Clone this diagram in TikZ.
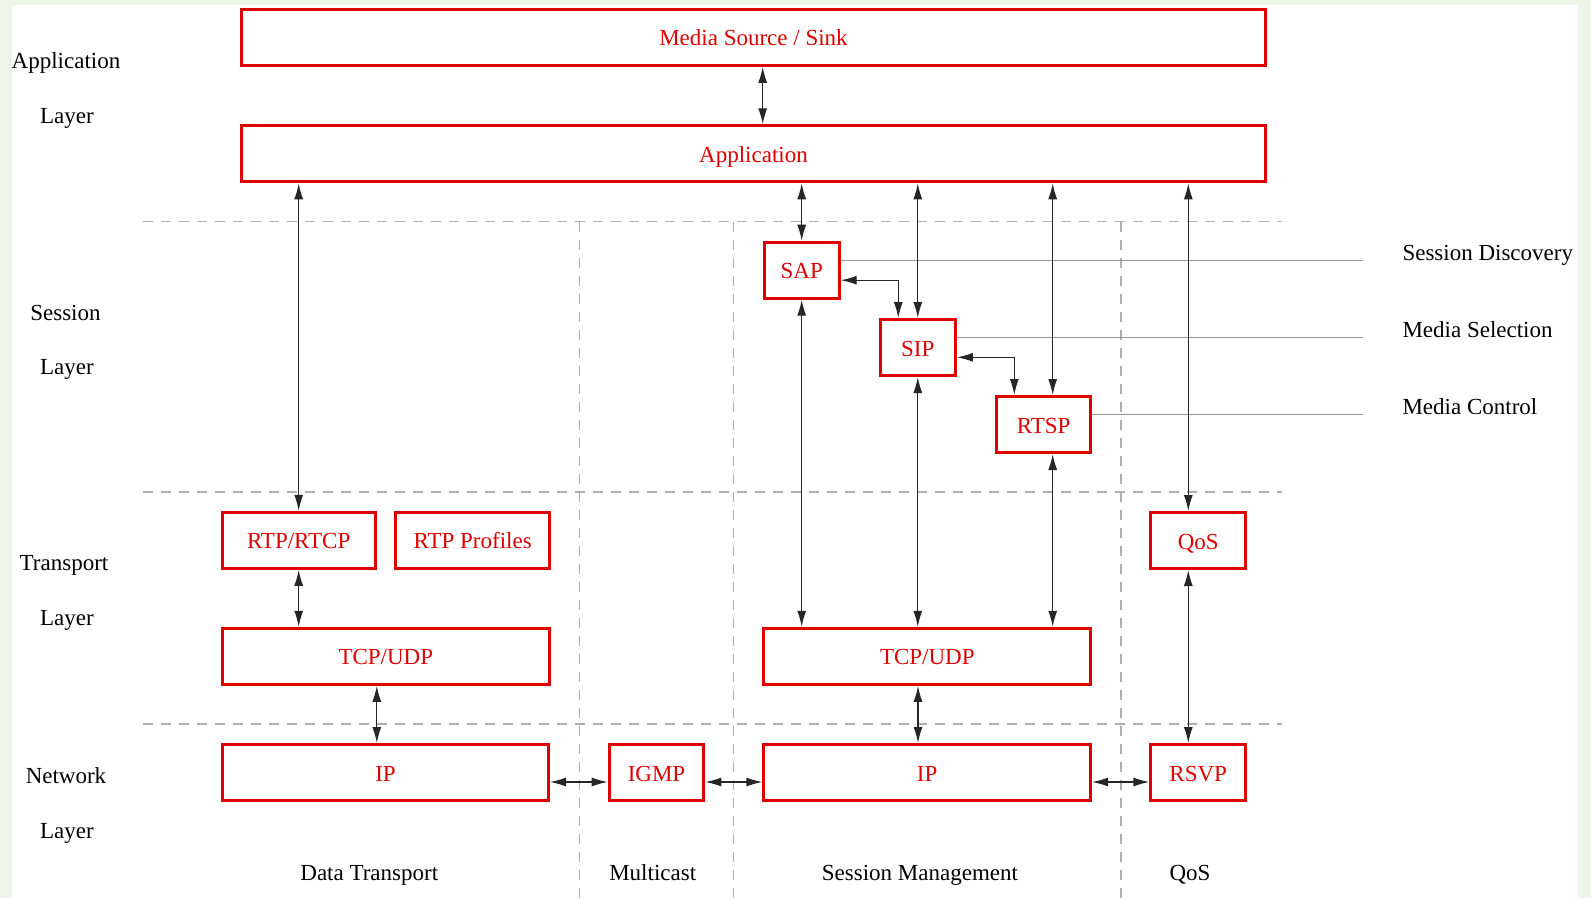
\documentclass[tikz,border=0pt]{standalone}
\usepackage{fontspec}
\setmainfont{Liberation Serif}
\usetikzlibrary{arrows.meta}

\definecolor{boxred}{RGB}{222,0,0}
\definecolor{pagegreen}{RGB}{236,245,232}
\definecolor{guidegray}{RGB}{150,150,150}
\definecolor{sepgray}{RGB}{175,175,175}

\tikzset{
  box/.style={draw=boxred, line width=3pt, text=boxred, inner sep=0pt,
              minimum height=56pt, align=center,
              text height=17.5pt, text depth=0.5pt},
  dbl/.style={{Latex[length=16pt,width=9pt]}-{Latex[length=16pt,width=9pt]},
              line width=1.3pt, draw=black!85},
  sep/.style={draw=sepgray, line width=1.5pt, dash pattern=on 10pt off 8pt},
  guide/.style={draw=guidegray, line width=1.4pt},
  lbl/.style={inner sep=0pt, anchor=base},
  tag/.style={inner sep=0pt, anchor=base west}
}

\begin{document}
\begin{tikzpicture}[x=1pt, y=-1pt, font=\fontsize{23}{27}\selectfont]
  % page
  \fill[pagegreen] (0,0) rectangle (1591,898);
  \fill[white] (12,5) rectangle (1578,898);
  \useasboundingbox (0,0) rectangle (1591,898);

  % layer and column separators
  \draw[sep] (143,221.7) -- (1282,221.7);
  \draw[sep] (143,492) -- (1282,492);
  \draw[sep] (143,724) -- (1282,724);
  \draw[sep] (579.3,221.7) -- (579.3,898);
  \draw[sep] (733.7,221.7) -- (733.7,898);
  \draw[sep] (1121,221.7) -- (1121,898);

  % layer names
  \node[lbl] (la1) at (66,68.3)  {Application};
  \node[lbl] (la2) at (67,123.3) {Layer};
  \node[lbl] (ls1) at (65.5,320) {Session};
  \node[lbl] (ls2) at (67,374.9) {Layer};
  \node[lbl] (lt1) at (64,570.6) {Transport};
  \node[lbl] (lt2) at (67,625.6) {Layer};
  \node[lbl] (ln1) at (66,783.2) {Network};
  \node[lbl] (ln2) at (67,838)   {Layer};

  % column names
  \node[lbl] (cData) at (369.3,880) {Data Transport};
  \node[lbl] (cMult) at (652.7,880) {Multicast};
  \node[lbl] (cSess) at (920,880)   {Session Management};
  \node[lbl] (cQos)  at (1190,880)  {QoS};

  % protocol boxes
  \node[box, minimum width=1024pt] (src)  at (753.5,37.3)   {Media Source / Sink};
  \node[box, minimum width=1024pt] (app)  at (753.5,153.8)  {Application};
  \node[box, minimum width=75pt]   (sap)  at (801.7,270.2)  {SAP};
  \node[box, minimum width=75.3pt] (sip)  at (917.8,347.5)  {SIP};
  \node[box, minimum width=94.3pt] (rtsp) at (1043.7,424.5) {RTSP};
  \node[box, minimum width=153pt]  (rtp)  at (298.7,540.3)  {RTP/RTCP};
  \node[box, minimum width=153.7pt](prof) at (472.7,540.3)  {RTP Profiles};
  \node[box, minimum width=95pt]   (qos)  at (1198.3,540.5) {QoS};
  \node[box, minimum width=327.3pt](tcpL) at (385.8,656.3)  {TCP/UDP};
  \node[box, minimum width=327pt]  (tcpR) at (927.3,656.3)  {TCP/UDP};
  \node[box, minimum width=326pt]  (ipL)  at (385.5,772.5)  {IP};
  \node[box, minimum width=94.6pt] (igmp) at (656.5,772.5)  {IGMP};
  \node[box, minimum width=326.7pt](ipR)  at (927.2,772.5)  {IP};
  \node[box, minimum width=94.7pt] (rsvp) at (1198.2,772.5) {RSVP};

  % session-layer functions
  \coordinate (eDisc) at (1363,260.2);
  \coordinate (eSel)  at (1363,337.7);
  \coordinate (eCtl)  at (1363,414.7);
  \draw[guide] ([yshift=10pt]sap.east)  -- (eDisc);
  \draw[guide] ([yshift=9.8pt]sip.east) -- (eSel);
  \draw[guide] ([yshift=9.8pt]rtsp.east) -- (eCtl);
  \node[tag] (tDisc) at (1402.3,260.2) {Session Discovery};
  \node[tag] (tSel)  at (1402.3,337.7) {Media Selection};
  \node[tag] (tCtl)  at (1402.3,414.7) {Media Control};

  % vertical connectors
  \draw[dbl] ([xshift=9.2pt]src.south) -- ([xshift=9.2pt]src.south |- app.north);
  \draw[dbl] (app.south -| rtp.north) -- (rtp.north);
  \draw[dbl] (rtp.south) -- (rtp.south |- tcpL.north);
  \draw[dbl] ([xshift=-9pt]tcpL.south) -- ([xshift=-9pt]tcpL.south |- ipL.north);
  \draw[dbl] (app.south -| sap.north) -- (sap.north);
  \draw[dbl] (sap.south) -- (sap.south |- tcpR.north);
  \draw[dbl] (app.south -| sip.north) -- (sip.north);
  \draw[dbl] (sip.south) -- (sip.south |- tcpR.north);
  \draw[dbl] ([xshift=9pt]rtsp.north |- app.south) -- ([xshift=9pt]rtsp.north);
  \draw[dbl] ([xshift=9pt]rtsp.south) -- ([xshift=9pt]rtsp.south |- tcpR.north);
  \draw[dbl] ([xshift=-9.3pt]tcpR.south) -- ([xshift=-9.3pt]tcpR.south |- ipR.north);
  \draw[dbl] ([xshift=-10pt]qos.north |- app.south) -- ([xshift=-10pt]qos.north);
  \draw[dbl] ([xshift=-10pt]qos.south) -- ([xshift=-10pt]qos.south |- rsvp.north);

  % session protocol links
  \draw[dbl] ([yshift=-10pt]sap.east) -| ([xshift=-19.5pt]sip.north);
  \draw[dbl] ([yshift=-9.8pt]sip.east) -| ([xshift=-29.4pt]rtsp.north);

  % network-layer links
  \draw[dbl] ([yshift=-9.5pt]ipL.east)  -- ([yshift=-9.5pt]igmp.west);
  \draw[dbl] ([yshift=-9.5pt]igmp.east) -- ([yshift=-9.5pt]ipR.west);
  \draw[dbl] ([yshift=-9.5pt]ipR.east)  -- ([yshift=-9.5pt]rsvp.west);
\end{tikzpicture}
\end{document}
